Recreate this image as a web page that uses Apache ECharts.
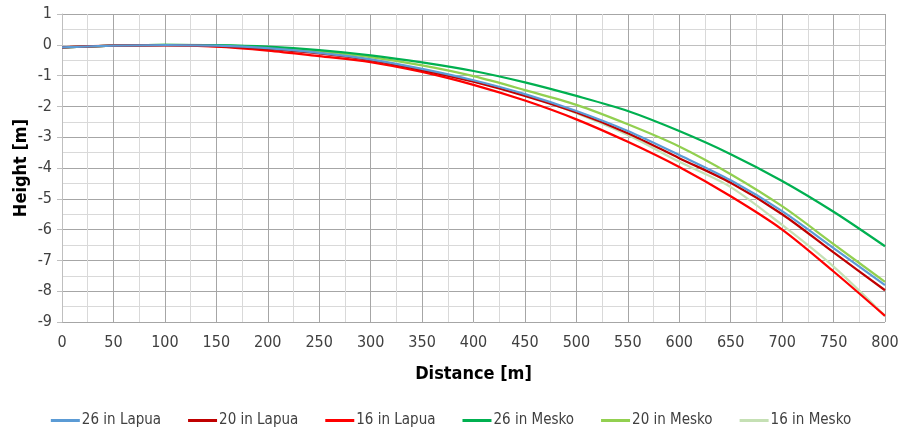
<!DOCTYPE html>
<html><head><meta charset="utf-8">
<script src="https://cdn.jsdelivr.net/npm/echarts@6/dist/echarts.min.js"></script>
<style>html,body{margin:0;padding:0;background:#fff}#c{width:902px;height:429px}</style>
</head><body><div id="c"></div>
<script>
const distances = [0,50,100,150,200,250,300,350,400,450,500,550,600,650,700,750,800];
const lapua26 = [-0.08,-0.03,-0.01,-0.03,-0.11,-0.26,-0.47,-0.78,-1.15,-1.60,-2.15,-2.80,-3.58,-4.40,-5.40,-6.60,-7.80];
const lapua20 = [-0.08,-0.03,-0.01,-0.04,-0.13,-0.28,-0.50,-0.82,-1.20,-1.66,-2.20,-2.87,-3.68,-4.48,-5.50,-6.74,-7.97];
const lapua16 = [-0.08,-0.03,-0.02,-0.06,-0.19,-0.37,-0.56,-0.88,-1.30,-1.81,-2.42,-3.15,-3.97,-4.92,-6.00,-7.36,-8.80];
const mesko26 = [-0.08,-0.03,0.00,-0.01,-0.06,-0.17,-0.34,-0.57,-0.85,-1.22,-1.66,-2.15,-2.80,-3.55,-4.42,-5.42,-6.54];
const mesko20 = [-0.08,-0.03,0.00,-0.02,-0.08,-0.21,-0.40,-0.67,-1.02,-1.47,-1.95,-2.58,-3.30,-4.20,-5.24,-6.47,-7.70];
const mesko16 = [-0.08,-0.03,-0.01,-0.03,-0.12,-0.27,-0.48,-0.80,-1.18,-1.63,-2.22,-2.93,-3.80,-4.62,-5.85,-7.20,-8.80];
const seriesNames = ['26 in Lapua','20 in Lapua','16 in Lapua','26 in Mesko','20 in Mesko','16 in Mesko'];
const seriesData = [lapua26,lapua20,lapua16,mesko26,mesko20,mesko16];
const colors = ['#5b9bd5','#c00000','#ff0000','#00b050','#92d050','#c5e0b4'];
const font = "'Liberation Sans Narrow','DejaVu Sans Condensed','Liberation Sans',sans-serif";

const chart = echarts.init(document.getElementById('c'), null, {renderer:'canvas'});
const order = [5,4,3,2,1,0];
chart.setOption({
  animation:false,
  backgroundColor:'#fff',
  grid:{left:62,right:17,top:14,bottom:107,containLabel:false},
  legend:{
    top:408, left:'center', itemWidth:29, itemHeight:3, itemGap:27, icon:'rect',
    textStyle:{fontFamily:font,fontSize:15,color:'#404040',padding:[0,0,0,-3]},
    data:seriesNames
  },
  xAxis:{
    type:'value', min:0, max:800, interval:50,
    name:'Distance [m]', nameLocation:'middle', nameGap:43,
    nameTextStyle:{fontFamily:font,fontSize:18,fontWeight:'bold',color:'#000'},
    axisLine:{show:true,lineStyle:{color:'#bfbfbf',width:1}},
    axisTick:{show:true,length:5,lineStyle:{color:'#bfbfbf'}},
    axisLabel:{fontFamily:font,fontSize:16,color:'#404040',margin:13},
    splitLine:{show:true,lineStyle:{color:'#a6a6a6',width:1}},
    minorTick:{show:false,splitNumber:2},
    minorSplitLine:{show:true,lineStyle:{color:'#d9d9d9',width:1}}
  },
  yAxis:{
    type:'value', min:-9, max:1, interval:1,
    name:'Height [m]', nameLocation:'middle', nameGap:32, nameRotate:90, nameMoveOverlap:false,
    nameTextStyle:{fontFamily:font,fontSize:18,fontWeight:'bold',color:'#000'},
    axisLine:{show:true,onZero:false,lineStyle:{color:'#bfbfbf',width:1}},
    axisTick:{show:true,length:5,lineStyle:{color:'#bfbfbf'}},
    axisLabel:{fontFamily:font,fontSize:16,color:'#404040',margin:10},
    splitLine:{show:true,lineStyle:{color:'#a6a6a6',width:1}},
    minorTick:{show:false,splitNumber:2},
    minorSplitLine:{show:true,lineStyle:{color:'#d9d9d9',width:1}}
  },
  series: order.map(i=>({
    name:seriesNames[i], type:'line', smooth:0.3, showSymbol:false, symbol:'none',
    color:colors[i], lineStyle:{width:2.25,color:colors[i]},
    data: distances.map((d,k)=>[d,seriesData[i][k]])
  }))
});
</script></body></html>
